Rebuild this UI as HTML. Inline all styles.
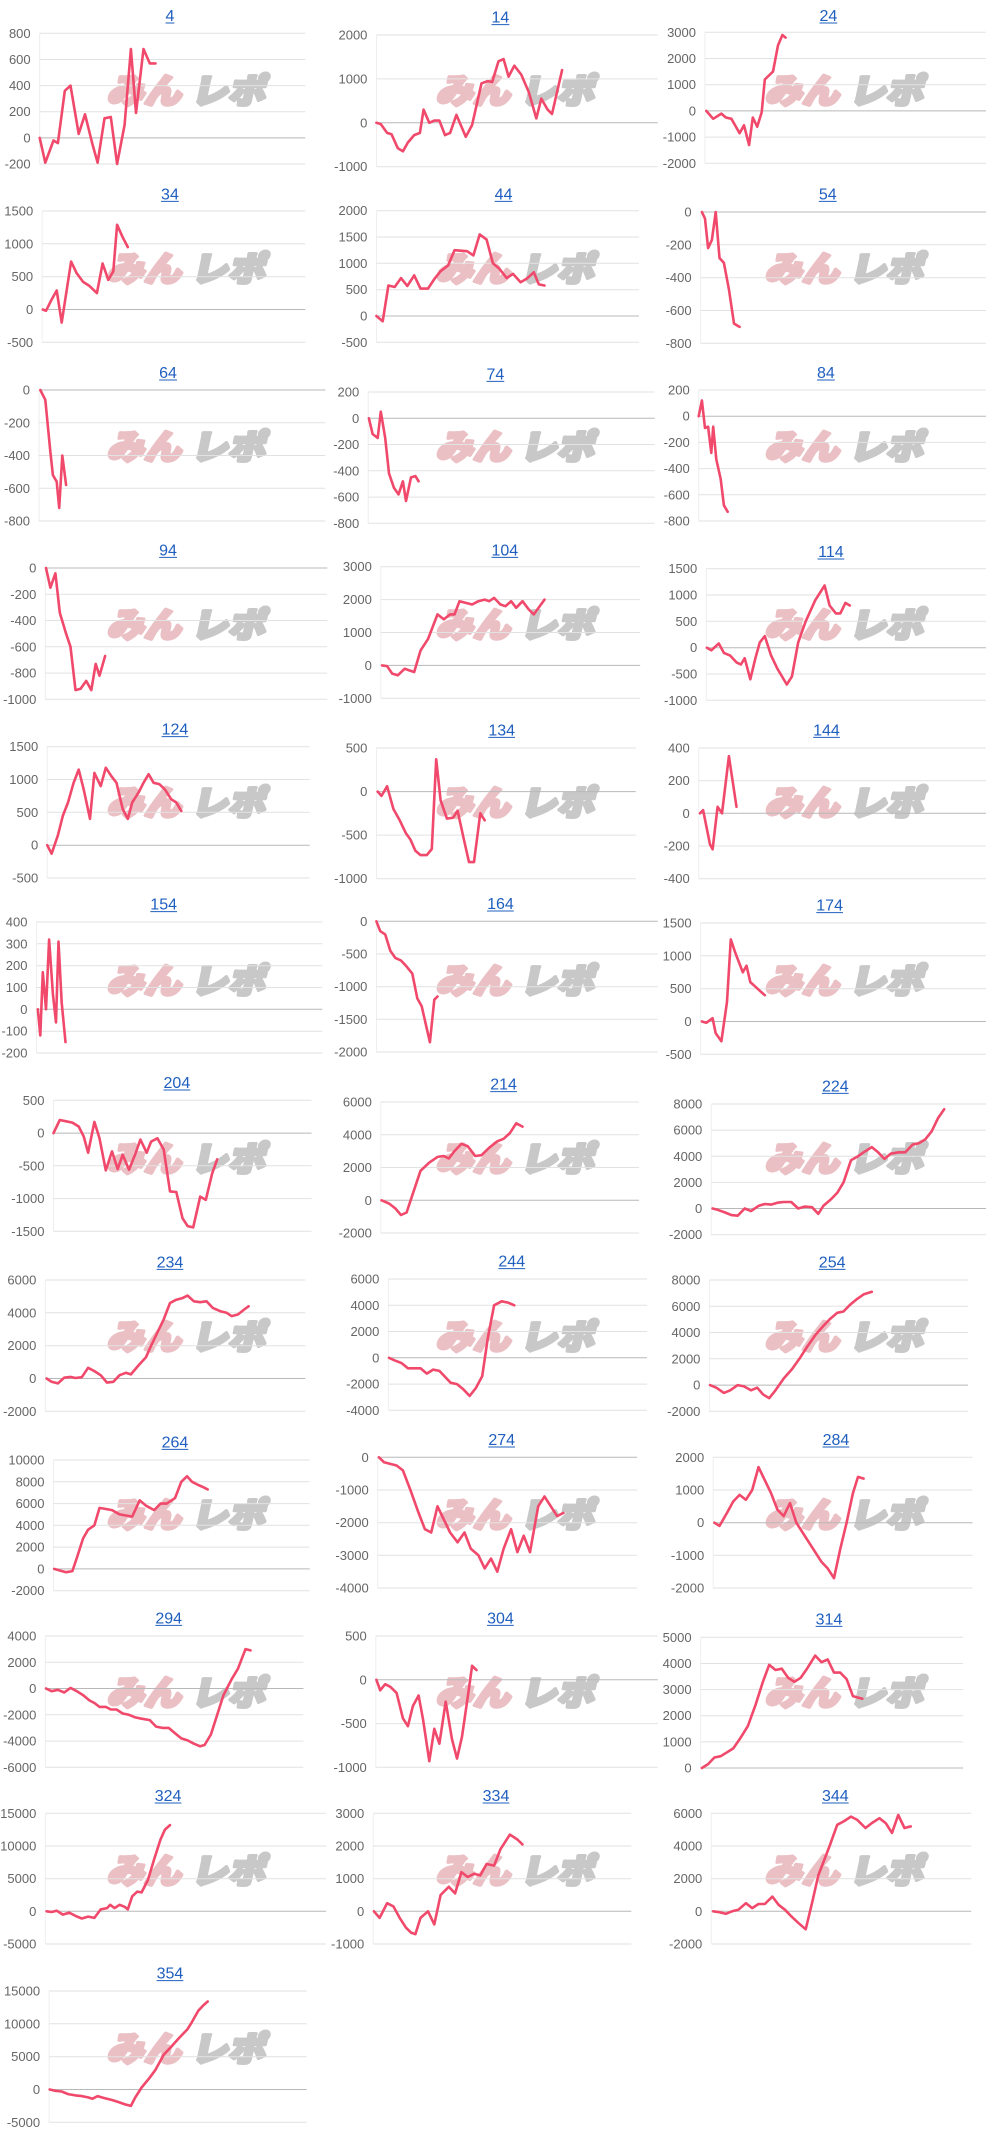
<!DOCTYPE html>
<html><head><meta charset="utf-8">
<style>
html,body{margin:0;padding:0;background:#fff;width:987px;height:2136px;overflow:hidden}
svg{display:block}
</style></head>
<body>
<svg id="s" width="987" height="2136" viewBox="0 0 987 2136" xmlns="http://www.w3.org/2000/svg"></svg>
<script>
const Z=987/1568;
const C=[
[0,'4',270,45,63,485,100,492,800,-200,200,[[63,0],[72,-190],[85,-20],[92,-40],[103,360],[112,400],[125,30],[135,180],[147,-50],[155,-190],[166,150],[176,160],[186,-200],[198,100],[208,680],[216,190],[228,680],[238,570],[247,570]]],
[0,'14',795,50,598,1045,105,500,2000,-1000,1000,[[598,0],[605,-30],[615,-230],[622,-260],[632,-580],[640,-650],[648,-450],[658,-280],[667,-230],[673,300],[682,0],[690,50],[698,50],[707,-280],[715,-230],[725,180],[740,-320],[750,-50],[765,900],[775,950],[782,930],[792,1400],[800,1450],[808,1050],[817,1300],[828,1100],[840,700],[852,100],[860,550],[870,300],[877,200],[893,1200]]],
[0,'24',1316,45,1120,1568,97,490,3000,-2000,1000,[[1122,0],[1133,-300],[1146,-100],[1153,-250],[1162,-300],[1175,-850],[1182,-550],[1190,-1300],[1196,-250],[1203,-600],[1210,-50],[1215,1200],[1228,1500],[1236,2500],[1243,2900],[1248,2800]]],
[0,'34',270,580,67,485,633,1027,1500,-500,500,[[68,0],[73,-20],[82,150],[90,290],[98,-200],[113,730],[122,550],[132,420],[142,360],[154,250],[163,700],[172,450],[180,580],[186,1290],[195,1100],[203,950]]],
[0,'44',800,580,598,1015,632,1027,2000,-500,500,[[598,0],[608,-100],[617,580],[627,550],[637,720],[647,570],[658,770],[668,520],[680,520],[690,700],[700,850],[712,960],[722,1250],[732,1240],[742,1230],[752,1150],[762,1550],[773,1450],[783,1000],[793,900],[805,720],[815,800],[827,640],[838,720],[848,830],[856,600],[865,580]]],
[0,'54',1315,580,1113,1568,636,1030,0,-800,200,[[1115,0],[1120,-40],[1125,-220],[1131,-170],[1137,0],[1143,-280],[1150,-310],[1158,-470],[1166,-680],[1175,-700]]],
[1,'64',267,48,62,517,102,495,0,-800,200,[[64,0],[72,-60],[80,-380],[84,-520],[90,-560],[94,-720],[99,-400],[105,-580]]],
[1,'74',787,52,585,1040,108,502,200,-800,200,[[586,0],[592,-120],[600,-150],[605,50],[612,-150],[618,-420],[626,-530],[633,-580],[640,-480],[645,-630],[653,-450],[660,-440],[665,-480]]],
[1,'84',1312,48,1110,1568,102,495,200,-800,200,[[1110,0],[1115,120],[1120,-90],[1125,-80],[1130,-280],[1133,-80],[1138,-330],[1145,-480],[1150,-680],[1156,-730]]],
[1,'94',267,580,72,520,636,1030,0,-1000,200,[[73,0],[80,-150],[88,-40],[95,-340],[105,-500],[112,-600],[120,-930],[128,-920],[137,-860],[145,-930],[152,-730],[158,-820],[167,-670]]],
[1,'104',802,580,605,1017,632,1027,3000,-1000,1000,[[607,0],[615,-20],[623,-250],[632,-300],[643,-100],[650,-150],[658,-200],[668,450],[680,800],[695,1550],[705,1400],[715,1550],[722,1550],[730,1950],[740,1900],[750,1850],[760,1950],[770,2000],[777,1950],[785,2050],[795,1850],[803,1800],[812,1950],[820,1750],[830,1950],[840,1700],[848,1550],[865,2000]]],
[1,'114',1320,585,1122,1568,638,1033,1500,-1000,500,[[1123,0],[1130,-50],[1142,80],[1150,-100],[1160,-150],[1170,-280],[1177,-320],[1183,-200],[1192,-600],[1200,-200],[1207,100],[1215,220],[1225,-150],[1235,-400],[1250,-700],[1258,-550],[1268,100],[1280,500],[1295,900],[1310,1180],[1318,800],[1328,650],[1335,650],[1343,850],[1350,800]]],
[2,'124',278,50,75,492,104,498,1500,-500,500,[[75,0],[82,-130],[92,150],[100,450],[108,650],[117,950],[125,1150],[133,850],[143,400],[150,1100],[160,900],[168,1180],[177,1050],[185,950],[195,550],[203,400],[210,650],[220,800],[228,950],[236,1080],[244,950],[253,930],[262,850],[272,700],[280,650],[288,520]]],
[2,'134',797,52,598,1010,108,500,500,-1000,500,[[600,0],[606,-50],[615,60],[625,-200],[635,-330],[645,-480],[652,-550],[660,-680],[668,-730],[678,-730],[686,-660],[693,370],[700,-100],[710,-310],[720,-300],[727,-220],[736,-520],[745,-810],[753,-810],[763,-250],[770,-330]]],
[2,'144',1313,52,1110,1568,108,500,400,-400,200,[[1112,0],[1117,20],[1128,-190],[1132,-220],[1140,40],[1147,0],[1158,350],[1170,40]]],
[2,'154',260,575,58,512,630,1023,400,-200,100,[[60,0],[64,-120],[68,170],[73,0],[78,320],[84,70],[89,-60],[93,310],[98,30],[104,-150]]],
[2,'164',795,573,598,1045,628,1020,0,-2000,500,[[598,0],[604,-150],[612,-200],[620,-450],[628,-560],[637,-600],[645,-680],[655,-800],[663,-1180],[670,-1300],[683,-1850],[690,-1200],[695,-1150]]],
[2,'174',1318,578,1113,1568,633,1027,1500,-500,500,[[1115,0],[1122,-20],[1132,50],[1137,-180],[1146,-300],[1155,300],[1161,1250],[1168,1050],[1180,750],[1186,850],[1192,600],[1200,530],[1208,460],[1215,400]]],
[3,'204',281,42,85,495,97,490,500,-1500,500,[[85,0],[95,200],[105,180],[115,160],[125,100],[133,-50],[140,-300],[150,170],[158,-80],[168,-570],[178,-280],[187,-550],[195,-330],[205,-560],[215,-320],[223,-100],[233,-300],[240,-130],[250,-80],[260,-250],[270,-890],[280,-900],[290,-1300],[298,-1420],[307,-1440],[318,-970],[327,-1020],[337,-620],[345,-400]]],
[3,'214',800,47,605,1015,102,495,6000,-2000,2000,[[606,0],[618,-200],[628,-500],[637,-900],[646,-750],[655,300],[668,1800],[682,2300],[695,2650],[705,2700],[713,2550],[722,3000],[733,3450],[743,3300],[755,2700],[765,2750],[777,3200],[790,3600],[800,3750],[810,4100],[820,4700],[830,4500]]],
[3,'224',1327,52,1130,1568,108,500,8000,-2000,2000,[[1132,0],[1140,-100],[1152,-300],[1162,-500],[1172,-550],[1183,0],[1193,-200],[1205,200],[1215,350],[1225,300],[1235,450],[1245,500],[1257,500],[1268,0],[1278,150],[1290,100],[1300,-400],[1308,200],[1320,700],[1330,1200],[1340,2000],[1352,3700],[1363,4000],[1372,4300],[1385,4700],[1395,4300],[1405,3800],[1415,4200],[1428,4300],[1438,4300],[1450,4900],[1460,5000],[1470,5300],[1480,5900],[1490,6900],[1500,7600]]],
[3,'234',270,580,72,485,636,1030,6000,-2000,2000,[[74,0],[82,-200],[92,-300],[102,50],[112,100],[120,30],[130,80],[140,650],[150,450],[160,200],[170,-250],[180,-200],[190,200],[200,350],[208,250],[220,800],[232,1300],[240,2000],[250,2800],[260,3600],[270,4600],[280,4800],[290,4900],[298,5050],[308,4700],[318,4650],[328,4700],[338,4300],[350,4100],[360,4000],[368,3800],[378,3900],[388,4200],[395,4400]]],
[3,'244',813,578,617,1028,633,1027,6000,-4000,2000,[[618,0],[627,-200],[638,-400],[648,-800],[658,-800],[668,-800],[678,-1200],[688,-900],[698,-1000],[708,-1500],[716,-1900],[726,-2000],[736,-2400],[746,-2900],[756,-2300],[766,-1400],[775,1500],[785,4000],[797,4300],[807,4200],[817,4000]]],
[3,'254',1322,580,1127,1538,636,1030,8000,-2000,2000,[[1128,0],[1138,-200],[1150,-600],[1160,-400],[1172,0],[1182,-100],[1193,-400],[1203,-200],[1212,-700],[1222,-1000],[1232,-400],[1245,500],[1258,1200],[1270,2000],[1282,2900],[1295,3800],[1308,4500],[1318,5000],[1330,5500],[1340,5600],[1350,6100],[1360,6500],[1372,6900],[1385,7100]]],
[4,'264',278,52,85,492,108,500,10000,-2000,2000,[[86,0],[95,-150],[105,-300],[115,-200],[122,1000],[132,2800],[140,3600],[150,4000],[158,5600],[168,5500],[178,5400],[190,5000],[200,4900],[210,4800],[222,6300],[232,5800],[245,5400],[255,6000],[265,6000],[278,6500],[288,8000],[297,8500],[305,8000],[315,7700],[323,7500],[330,7300]]],
[4,'274',797,45,600,1012,100,492,0,-4000,1000,[[602,0],[610,-150],[620,-200],[630,-250],[640,-400],[652,-1000],[665,-1700],[675,-2200],[685,-2300],[695,-1500],[705,-1900],[715,-2300],[727,-2600],[738,-2300],[748,-2800],[760,-3000],[770,-3400],[780,-3100],[790,-3500],[800,-2800],[812,-2200],[822,-2900],[832,-2400],[842,-2900],[855,-1500],[865,-1200],[875,-1500],[885,-1800],[895,-1700]]],
[4,'284',1328,45,1133,1545,100,492,2000,-2000,1000,[[1135,0],[1143,-100],[1155,300],[1165,650],[1175,850],[1185,700],[1195,1000],[1205,1700],[1215,1300],[1225,900],[1235,400],[1245,200],[1255,600],[1265,0],[1275,-300],[1285,-600],[1295,-900],[1305,-1200],[1315,-1400],[1325,-1700],[1335,-800],[1345,0],[1355,900],[1363,1400],[1372,1350]]],
[4,'294',268,580,72,482,636,1030,4000,-6000,2000,[[73,0],[82,-200],[92,-100],[102,-300],[112,50],[122,-200],[132,-500],[142,-900],[150,-1100],[158,-1400],[168,-1400],[176,-1600],[185,-1600],[195,-1900],[205,-2000],[215,-2200],[225,-2300],[238,-2400],[248,-2900],[258,-3000],[268,-3000],[278,-3400],[288,-3800],[298,-3950],[308,-4200],[318,-4400],[325,-4300],[335,-3500],[345,-2000],[355,-500],[368,700],[378,1500],[390,3000],[398,2900]]],
[4,'304',795,580,597,1045,636,1030,500,-1000,500,[[598,0],[604,-120],[612,-50],[620,-80],[630,-150],[640,-440],[648,-530],[656,-300],[665,-180],[672,-450],[682,-930],[690,-560],[698,-730],[708,-250],[718,-680],[726,-900],[734,-650],[743,-200],[750,160],[757,110]]],
[4,'314',1317,583,1113,1530,640,1032,5000,0,1000,[[1115,0],[1125,150],[1135,400],[1145,450],[1155,600],[1165,750],[1175,1100],[1188,1600],[1200,2400],[1212,3300],[1222,3950],[1232,3750],[1242,3800],[1252,3450],[1262,3300],[1272,3450],[1282,3800],[1295,4300],[1305,4050],[1315,4150],[1325,3650],[1335,3650],[1345,3400],[1355,2750],[1362,2700],[1370,2650]]],
[5,'324',267,45,72,518,100,492,15000,-5000,5000,[[74,0],[82,-100],[90,100],[100,-500],[110,-200],[120,-700],[130,-1100],[140,-800],[150,-1000],[160,300],[170,500],[175,1000],[182,500],[190,1000],[198,700],[203,300],[210,2300],[218,3000],[225,2900],[235,4800],[245,8000],[255,11000],[262,12500],[270,13200]]],
[5,'334',788,45,593,1003,100,492,3000,-1000,1000,[[594,0],[603,-200],[615,250],[625,150],[635,-200],[645,-500],[653,-650],[660,-700],[668,-200],[680,0],[690,-400],[700,500],[713,750],[723,550],[733,1200],[743,1050],[753,1150],[763,1100],[773,1450],[785,1400],[795,1900],[810,2350],[822,2200],[830,2050]]],
[5,'344',1327,45,1130,1543,100,492,6000,-2000,2000,[[1133,0],[1143,-50],[1153,-150],[1163,0],[1173,100],[1185,500],[1195,200],[1205,450],[1215,450],[1227,900],[1237,400],[1247,100],[1257,-300],[1268,-700],[1280,-1100],[1290,500],[1300,2200],[1318,4000],[1330,5300],[1340,5500],[1352,5800],[1362,5600],[1375,5100],[1385,5400],[1397,5700],[1407,5400],[1417,4800],[1427,5900],[1437,5100],[1447,5200]]],
[5,'354',270,578,78,487,633,1027,15000,-5000,5000,[[79,0],[88,-200],[98,-300],[108,-700],[120,-900],[130,-1000],[140,-1200],[147,-1400],[155,-1000],[165,-1300],[178,-1600],[188,-1900],[200,-2300],[208,-2500],[215,-1200],[225,300],[237,1700],[247,3000],[260,5300],[272,6500],[285,7900],[298,9200],[305,10300],[315,12000],[323,12800],[330,13400]]]
];
let h='';
for(const c of C){
  const [zi,t,tx,ty,L,R,T,B,mx,mn,st,d]=c;
  const y0=zi*356;
  const l=L*Z, r=Math.min(R*Z,986), top=y0+T/3, bot=y0+B/3;
  const Y=v=>top+(mx-v)/(mx-mn)*(bot-top);
  const colX = l<329?0:(l<658?329:658);
  const wy=y0+(ty<300?0:178);
  h+=`<g transform="translate(${colX+107},${wy+103}) skewX(-12)"><text x="0" y="0" font-family="Noto Sans CJK JP, sans-serif" font-weight="900" font-size="34" fill="#ebc0c4" stroke="#ebc0c4" stroke-width="3.5" stroke-linejoin="round" textLength="74" lengthAdjust="spacingAndGlyphs">みん</text><text x="84" y="0" font-family="Noto Sans CJK JP, sans-serif" font-weight="900" font-size="34" fill="#c8c8c8" stroke="#c8c8c8" stroke-width="3.5" stroke-linejoin="round" textLength="74" lengthAdjust="spacingAndGlyphs">レポ</text></g>`;
  h+=`<line x1="${l}" y1="${top}" x2="${l}" y2="${bot}" stroke="#eeeeee" stroke-width="1"/>`;
  for(let v=mx;v>=mn-1e-9;v-=st){
    const y=Y(v).toFixed(1);
    h+=`<line x1="${l}" y1="${y}" x2="${r}" y2="${y}" stroke="${v==0?'#b8b8b8':'#e2e2e2'}" stroke-width="1"/>`;
    h+=`<text x="${l-9}" y="${(+y+4.5).toFixed(1)}" text-anchor="end" font-family="Liberation Sans, sans-serif" font-size="13" fill="#666">${v}</text>`;
  }
  h+=`<polyline fill="none" stroke="#f0496b" stroke-width="2.6" stroke-linejoin="round" stroke-linecap="round" points="${d.map(p=>(p[0]*Z).toFixed(1)+','+Y(p[1]).toFixed(1)).join(' ')}"/>`;
  const tX=tx*Z, tY=y0+ty/3+6;
  h+=`<text x="${tX}" y="${tY}" text-anchor="middle" font-family="Liberation Sans, sans-serif" font-size="16" fill="#1f5fbf">${t}</text>`;
  const w=t.length*8.9;
  h+=`<line x1="${tX-w/2}" y1="${tY+2}" x2="${tX+w/2}" y2="${tY+2}" stroke="#1f5fbf" stroke-width="1"/>`;
}
document.getElementById('s').innerHTML=h;
</script>
</body></html>
